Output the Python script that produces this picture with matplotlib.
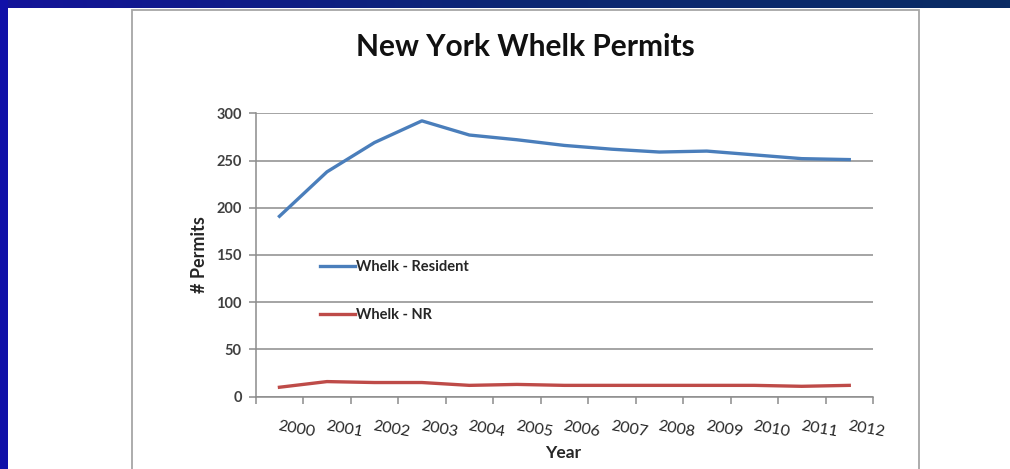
import numpy as np
import matplotlib
matplotlib.use("Agg")
import matplotlib.pyplot as plt
from matplotlib.patches import Rectangle
from matplotlib.colors import LinearSegmentedColormap

years = ['2000', '2001', '2002', '2003', '2004', '2005', '2006',
         '2007', '2008', '2009', '2010', '2011', '2012']
resident = [191, 238, 269, 292, 277, 272, 266, 262, 259, 260, 256, 252, 251]
non_resident = [10, 16, 15, 15, 12, 13, 12, 12, 12, 12, 12, 11, 12]

W, H = 1010, 469
plt.rcParams['font.family'] = ['Lato', 'DejaVu Sans']

fig = plt.figure(figsize=(W / 100, H / 100), dpi=100)
fig.patch.set_facecolor('white')


def box(x0, y0, x1, y1, **kw):
    # rectangle given in image pixels (top-left origin)
    fig.patches.append(Rectangle((x0 / W, 1 - y1 / H), (x1 - x0) / W, (y1 - y0) / H,
                                 transform=fig.transFigure, **kw))


# slide background: blue frame on left and top
box(0, 0, 8, H, facecolor='#1010a8', edgecolor='none')
top = fig.add_axes([0, 1 - 8 / H, 1, 8 / H])
grad = np.linspace(0, 1, 256).reshape(1, -1)
cmap = LinearSegmentedColormap.from_list('topbar', ['#14149a', '#0c2674', '#0a2c64'])
top.imshow(grad, aspect='auto', cmap=cmap)
top.axis('off')

# chart frame
box(132, 10.5, 919, H + 5, facecolor='none', edgecolor='#a6a6a6', lw=1.3)

x = np.arange(len(years))
ax = fig.add_axes([255.7 / W, 1 - 396.7 / H, (873 - 255.7) / W, (396.7 - 113.3) / H])
ax.set_facecolor('none')
ax.plot(x, resident, color='#4a7ebb', lw=2.4, label='Whelk - Resident')
ax.plot(x, non_resident, color='#be4b48', lw=2.4, label='Whelk - NR')

ax.set_xlim(-0.5, 12.5)
ax.set_ylim(0, 300)
ax.set_yticks(range(0, 301, 50))
ax.grid(axis='y', color='#8c8c8c', lw=1.1)
ax.set_axisbelow(True)
for s in ['top', 'right']:
    ax.spines[s].set_visible(False)
for s in ['left', 'bottom']:
    ax.spines[s].set_color('#8c8c8c')
    ax.spines[s].set_linewidth(1.1)

ax.tick_params(axis='y', length=5, color='#8c8c8c', width=1.1, pad=5,
               labelsize=10.5, labelcolor='#404040')
for lbl in ax.get_yticklabels():
    lbl.set_fontweight('bold')

ax.set_xticks(x)
ax.set_xticklabels(years, rotation=-10, ha='left', va='top', rotation_mode='anchor',
                   fontsize=11.5, color='#262626')
ax.set_xticks(np.arange(-0.5, 13, 1), minor=True)
ax.tick_params(axis='x', which='major', length=0, pad=16)
ax.tick_params(axis='x', which='minor', length=5, color='#8c8c8c', width=1.1)

ax.set_ylabel('# Permits', fontsize=13, fontweight='bold', color='#262626')
ax.yaxis.set_label_coords(-0.077, 0.503)
ax.set_xlabel('Year', fontsize=12.5, fontweight='bold', color='#262626')
ax.xaxis.set_label_coords(0.498, -0.170)

leg = ax.legend(loc='upper left', bbox_to_anchor=(0.104, 0.482), frameon=False,
                prop={'weight': 'bold', 'size': 10.5}, handlelength=2.4,
                handletextpad=0.1, labelspacing=2.3, borderpad=0, borderaxespad=0)
for t in leg.get_texts():
    t.set_color('#262626')

fig.text(525 / W, 1 - 47 / H, 'New York Whelk Permits', ha='center', va='center',
         fontsize=21.5, fontweight='bold', color='#111111')

fig.savefig('out.png', dpi=100)
